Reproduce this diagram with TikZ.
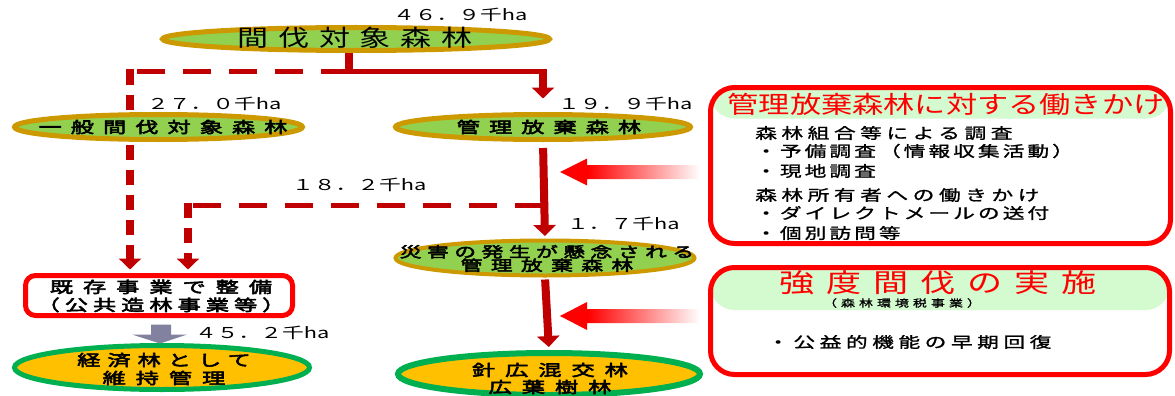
\documentclass[tikz,border=0pt]{standalone}
\usepackage{fontspec}
\setmainfont{Noto Sans CJK JP}
\newfontfamily\jpr{Noto Sans CJK JP}
\newfontfamily\jpm[FakeBold=1.3]{Noto Sans CJK JP}
\newfontfamily\jpb[FakeBold=3.5]{Noto Sans CJK JP}
\newcommand\FS[3]{{\addfontfeatures{FakeStretch=#1,LetterSpace=#2}#3}}
\usetikzlibrary{shapes.geometric,arrows.meta,calc}
\pgfdeclarelayer{bg}
\pgfsetlayers{bg,main}
\definecolor{dred}{HTML}{C00000}
\definecolor{bred}{HTML}{FF0000}
\definecolor{lgreen}{HTML}{92D050}
\definecolor{gold}{HTML}{CC9900}
\definecolor{orng}{HTML}{FFC000}
\definecolor{ggreen}{HTML}{00B050}
\definecolor{band}{HTML}{D4FAD0}
\definecolor{garrow}{HTML}{8282A0}
\pgfdeclarehorizontalshading{fadeR}{100bp}{color(0bp)=(bred); color(25bp)=(bred); color(35bp)=(bred); color(75bp)=(white); color(100bp)=(white)}
\begin{document}
\begin{tikzpicture}[x=1pt,y=-1pt,
  ellG/.style={ellipse, draw=gold, fill=lgreen, line width=5pt, inner sep=0pt},
  ellO/.style={ellipse, draw=ggreen, fill=orng, line width=5pt, inner sep=0pt},
  kbox/.style={rectangle, rounded corners=10pt, draw=bred, fill=white, line width=5pt, inner sep=0pt},
  rbox/.style={rectangle, rounded corners=24pt, draw=bred, fill=white, line width=5pt, inner sep=0pt},
  txt/.style={inner sep=0pt, text=black},
  amt/.style={inner sep=0pt, anchor=west, text=black, font=\jpr\fontsize{15}{15}\selectfont\addfontfeatures{FakeStretch=1.45}},
  body/.style={inner sep=0pt, anchor=west, text=black, font=\jpm\fontsize{15}{15}\selectfont},
  sred/.style={draw=dred},
  dredline/.style={draw=dred},
  redtip/.style={-{Triangle[width=22pt,length=11pt]}}
]
\useasboundingbox (0,0) rectangle (1175,396);

% ---- nodes
\node[ellG, minimum width=387pt, minimum height=23pt] (top) at (356,39) {};
\node[txt] (topT) at (355,38) {\jpr\fontsize{23}{23}\selectfont\FS{1.35}{43}{間伐対象森林}};

\node[ellG, minimum width=288pt, minimum height=25pt] (ippan) at (158.5,127) {};
\node[txt] (ippanT) at (163,127) {\jpb\fontsize{15.5}{15.5}\selectfont\FS{1.5}{58}{一般間伐対象森林}};

\node[ellG, minimum width=295pt, minimum height=25pt] (kanri) at (543,127) {};
\node[txt] (kanriT) at (549,127) {\jpb\fontsize{15.5}{15.5}\selectfont\FS{1.5}{58}{管理放棄森林}};

\node[ellG, line width=4pt, minimum width=299pt, minimum height=35pt] (saigai) at (545,258) {};
\node[txt, align=center, font=\jpb\fontsize{14.5}{13.5}\selectfont] (saigaiT) at (547,258.5) {\FS{1.5}{38}{災害の発生が懸念される}\\\FS{1.5}{58}{管理放棄森林}};

\node[ellO, line width=6pt, minimum width=302pt, minimum height=42pt] (shinko) at (549,374) {};
\node[txt, align=center, font=\jpb\fontsize{15.5}{17}\selectfont] (shinkoT) at (550,378.5) {\FS{1.5}{64}{針広混交林}\\\FS{1.5}{64}{広葉樹林}};

\node[ellO, minimum width=295pt, minimum height=44pt] (keizai) at (162,367.5) {};
\node[txt, align=center, font=\jpb\fontsize{15.5}{18}\selectfont] (keizaiT) at (164,369) {\FS{1.5}{45}{経済林として}\\\FS{1.5}{64}{維持管理}};

\node[kbox, minimum width=267pt, minimum height=40pt] (kison) at (159,295.5) {};
\node[txt, align=center, font=\jpb\fontsize{15.5}{18}\selectfont] (kisonT) at (161,296) {\FS{1.5}{64}{既存事業で整備}\\\FS{1.5}{32}{（公共造林事業等）}};

% amounts
\node[amt] (a469) at (393,15) {４６．９千ha};
\node[amt] (a270) at (147,104) {２７．０千ha};
\node[amt] (a199) at (558,104) {１９．９千ha};
\node[amt] (a182) at (292,185) {１８．２千ha};
\node[amt] (a17) at (567,224) {１．７千ha};
\node[amt] (a452) at (195,333) {４５．２千ha};

% right box 1
\node[rbox, minimum width=460pt, minimum height=156pt,
  path picture={\fill[band] (path picture bounding box.north west) rectangle ([yshift=-31pt]path picture bounding box.north east);}] (box1) at (940.5,165.5) {};
\node[txt, text=bred] (box1T) at (946,104) {\jpr\fontsize{24}{24}\selectfont\FS{1.3}{0}{管理放棄森林に対する働きかけ}};
\node[body] (l1) at (755,133) {\FS{1.45}{30}{森林組合等による調査}};
\node[body] (l2) at (755,151) {\FS{1.45}{20}{・予備調査（情報収集活動）}};
\node[body] (l3) at (755,171) {\FS{1.45}{20}{・現地調査}};
\node[body] (l4) at (755,195) {\FS{1.45}{30}{森林所有者への働きかけ}};
\node[body] (l5) at (755,213) {\FS{1.45}{20}{・ダイレクトメールの送付}};
\node[body] (l6) at (755,233) {\FS{1.45}{20}{・個別訪問等}};

% right box 2
\node[rbox, minimum width=459pt, minimum height=107pt,
  path picture={\fill[band] (path picture bounding box.north west) rectangle ([yshift=-42.5pt]path picture bounding box.north east);}] (box2) at (940,321) {};
\node[txt, text=bred] (box2T) at (938,283) {\jpr\fontsize{26}{26}\selectfont\FS{1.35}{46}{強度間伐の実施}};
\node[txt] (box2S) at (902,303) {\jpm\fontsize{10}{10}\selectfont\FS{1.4}{40}{（森林環境税事業）}};
\node[body] (m1) at (767,342) {\FS{1.45}{30}{・公益的機能の早期回復}};

% fading arrows
\shade[shading=fadeR] (560,172) -- (587,158.5) -- (587,165) -- (700,165) -- (700,179) -- (587,179) -- (587,185.5) -- cycle;
\shade[shading=fadeR] (560,316) -- (587,302) -- (587,309) -- (700,309) -- (700,323) -- (587,323) -- (587,330) -- cycle;

% gray block arrow
\fill[garrow] ($(kison.south)+(-8,6.5)$) -- ($(kison.south)+(12,6.5)$) -- ($(kison.south)+(12,16.5)$) -- ($(kison.south)+(28,16.5)$) -- ($(kison.south)+(1,25.5)$) -- ($(kison.south)+(-27,16.5)$) -- ($(kison.south)+(-8,16.5)$) -- cycle;

% ---- connectors
\coordinate (c1) at (349,72);
\coordinate (c2) at (543,72);
\coordinate (d1) at (130,72);
\coordinate (c3) at (543,205);
\coordinate (d2) at (188,205);
\begin{pgfonlayer}{bg}
\draw[sred, line width=8pt] (top.south -| c1) -- ($(c1)+(0,2.5)$);
\draw[sred, line width=5pt] ($(c1)+(-4,0)$) -- ($(c2)+(4,0)$);
\draw[sred, line width=8pt, redtip, shorten >=13.5pt] ($(c2)+(0,-2.5)$) -- (kanri.north);
\draw[sred, line width=8pt, redtip, shorten <=6pt, shorten >=2.5pt] (kanri.south) -- (saigai.north);
\draw[sred, line width=8pt, redtip, shorten <=2pt, shorten >=3pt] (saigai.south) -- (shinko.north);
\draw[dredline, line width=5pt, dash pattern=on 28pt off 18pt] (c1) -- (d1);
\draw[dredline, line width=8pt, dash pattern=on 15pt off 10pt, redtip, shorten >=3.5pt] ($(d1)+(0,-2.5)$) -- (kison.north -| d1);
\draw[dredline, line width=5pt, dash pattern=on 28pt off 18pt] (c3) -- (d2);
\draw[dredline, line width=8pt, dash pattern=on 15pt off 10pt, redtip, shorten >=3.5pt] ($(d2)+(0,-2.5)$) -- (kison.north -| d2);
\end{pgfonlayer}
\end{tikzpicture}
\end{document}
